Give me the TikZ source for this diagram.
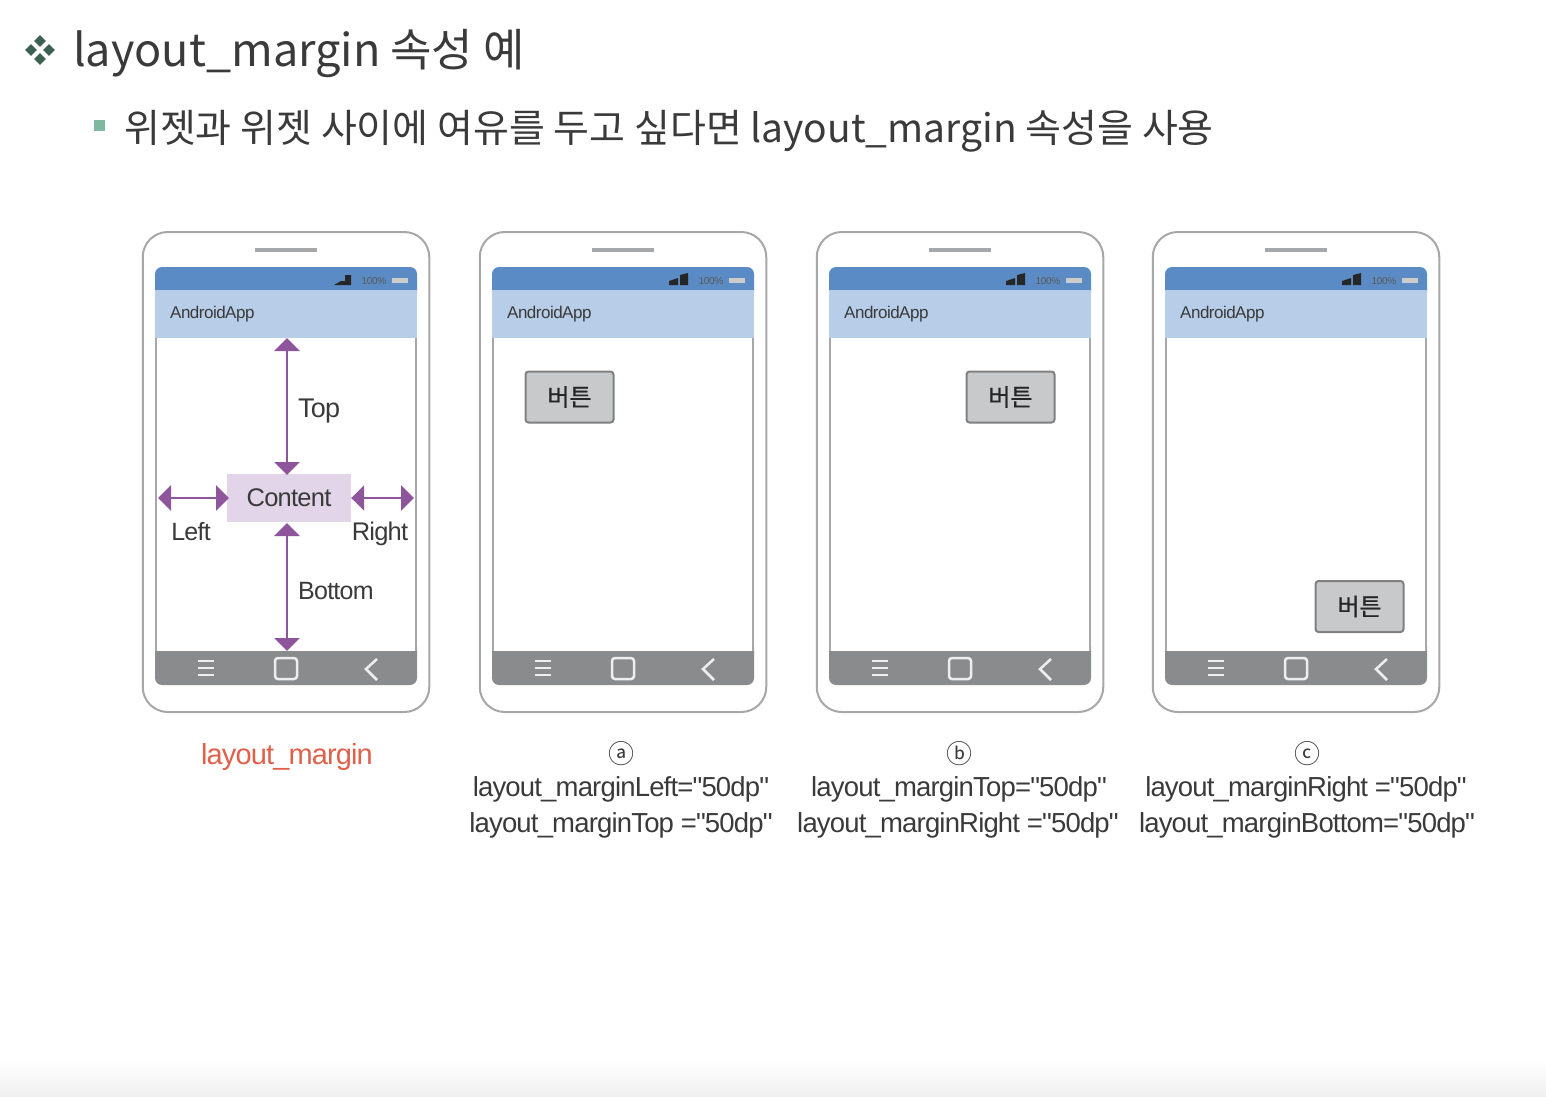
\documentclass[tikz,border=0pt]{standalone}
\usepackage{fontspec}
\newfontfamily\labelfont{Liberation Sans}[LetterSpace=-3]
\newfontfamily\krfont{Noto Sans CJK KR}
\usetikzlibrary{arrows.meta,shapes.geometric}
\definecolor{inkgray}{HTML}{3A3A3A}
\definecolor{framegray}{HTML}{A6A7A9}
\definecolor{statusblue}{HTML}{5B8BC5}
\definecolor{appblue}{HTML}{B7CDE8}
\definecolor{navgray}{HTML}{8A8B8D}
\definecolor{arrowpurple}{HTML}{8E559C}
\definecolor{contentpurple}{HTML}{E2D4E9}
\definecolor{buttongray}{HTML}{C8C9CB}
\definecolor{bulletdark}{HTML}{3C6152}
\definecolor{bulletlight}{HTML}{7FB8A0}
\definecolor{marginred}{HTML}{E0604A}
\tikzset{
  txt/.style={inner sep=0pt,text=inkgray,font=\labelfont\fontsize{#1}{#1}\selectfont},
  heading/.style={inner sep=0pt,anchor=west,text=inkgray,font=\krfont\fontsize{#1}{#1}\selectfont},
  phonebody/.style={draw=framegray,line width=2pt,fill=white,rounded corners=25pt,minimum width=286.5pt,minimum height=480pt,inner sep=0pt},
  buttonbox/.style={draw=gray,line width=2pt,fill=buttongray,rounded corners=3pt,minimum width=88pt,minimum height=51pt,inner sep=0pt,text=black!85,font=\krfont\fontsize{24}{24}\selectfont\addfontfeature{FakeBold=0.6}},
  contentbox/.style={fill=contentpurple,minimum width=124pt,minimum height=48pt,inner sep=0pt,text=inkgray,font=\labelfont\fontsize{25.5}{25.5}\selectfont},
  marginarrow/.style={draw=arrowpurple,line width=2.5pt,{Stealth[length=13pt,width=25pt,inset=0pt]}-{Stealth[length=13pt,width=25pt,inset=0pt]}},
  dia/.style={diamond,fill=bulletdark,minimum size=12pt,inner sep=0pt},
  navline/.style={draw=white!85!navgray,line width=2.5pt},
  markletter/.style={inner sep=0pt,text=inkgray,font=\krfont\fontsize{26}{26}\selectfont}
}
\begin{document}
\begin{tikzpicture}[x=1pt,y=-1pt]
\useasboundingbox (0,0) rectangle (1546,1096);
\shade[top color=white,bottom color=black!6] (0,1060) rectangle (1546,1096);

% headings
\node[dia] (d1) at (40,41) {};
\node[dia] (d2) at (31,50) {};
\node[dia] (d3) at (49,50) {};
\node[dia] (d4) at (40,59) {};
\node[fill=bulletlight,minimum size=11pt,inner sep=0pt] (sq) at (99.5,125) {};
\node[heading=45] (title) at (73,54) {layout\_margin 속성 예};
\node[heading=39] (sub) at (124,131) {위젯과 위젯 사이에 여유를 두고 싶다면 layout\_margin 속성을 사용};

% four phones
\foreach \px/\pname in {0/pa,337/pb,674/pc,1010/pd}{
\begin{scope}[shift={(\px,0)}]
\node[phonebody] (\pname) at (286,472) {};
\draw[draw=framegray,line width=3.5pt] (255,250) -- (317,250);
\fill[statusblue,rounded corners=7pt] (155,300) -- (155,267) -- (417,267) -- (417,300) -- cycle;
\fill[appblue] (155,290) rectangle (417,338);
\fill[navgray,rounded corners=7pt] (155,640) -- (155,685) -- (417,685) -- (417,640) -- cycle;
\fill[white] (155,338) rectangle (417,651);
\draw[draw=framegray,line width=2.5pt] (156,338) -- (156,651) (416,338) -- (416,651);
\node[inner sep=0pt,text=black!65,font=\labelfont\fontsize{10}{10}\selectfont] (pct\pname) at (374,281) {100\%};
\fill[black!20] (392,278) rectangle (408,283);
\node[txt=17,anchor=west] (app\pname) at (170,314) {AndroidApp};
\draw[navline] (198,661) -- (214,661) (198,668) -- (214,668) (198,675) -- (214,675);
\draw[navline,rounded corners=3pt] (275,658) rectangle (297,679);
\draw[navline] (377,659) -- (366,669) -- (377,680);
\end{scope}
}

% signal icons
\fill[black!85] (334,285) -- (341,281) -- (345,281) -- (345,275) -- (351,275) -- (351,285) -- cycle;
\foreach \px in {337,674,1010}{
\fill[black!85,shift={(\px,0)}] (332,285) -- (332,281) -- (341,278) -- (341,285) -- cycle;
\fill[black!85,shift={(\px,0)}] (343,285) -- (343,275) -- (351,273) -- (351,285) -- cycle;
}

% margins of the first phone
\node[contentbox] (content) at (289,498) {Content};
\coordinate (topend) at (287,338);
\coordinate (bottomend) at (287,651);
\coordinate (leftend) at (158,498);
\coordinate (rightend) at (414,498);
\coordinate (topstart) at (287,475);
\coordinate (bottomstart) at (287,523);
\coordinate (leftstart) at (229,498);
\draw[marginarrow] (topend) -- (topstart);
\draw[marginarrow] (bottomstart) -- (bottomend);
\draw[marginarrow] (leftend) -- (leftstart);
\draw[marginarrow] (content.east) -- (rightend);
\node[txt=27,anchor=west] (toplbl) at (298,411) {Top};
\node[txt=25,anchor=west] (bottomlbl) at (298,591) {Bottom};
\node[txt=25] (leftlbl) at (191,532) {Left};
\node[txt=25.5] (rightlbl) at (380,534) {Right};

% buttons
\node[buttonbox] (btna) at (569.5,397) {버튼};
\node[buttonbox] (btnb) at (1010.5,397) {버튼};
\node[buttonbox] (btnc) at (1359.5,606.5) {버튼};

% captions
\node[txt=29,text=marginred] (capm) at (287,757) {layout\_margin};
\node[markletter] (marka) at (621,754) {ⓐ};
\node[markletter] (markb) at (959,754) {ⓑ};
\node[markletter] (markc) at (1307,754) {ⓒ};
\node[txt=27.5] (capa1) at (621,789) {layout\_marginLeft="50dp"};
\node[txt=27.5] (capa2) at (621,825) {layout\_marginTop ="50dp"};
\node[txt=27.5] (capb1) at (959,789) {layout\_marginTop="50dp"};
\node[txt=27.5] (capb2) at (958,825) {layout\_marginRight ="50dp"};
\node[txt=27.5] (capc1) at (1306,789) {layout\_marginRight ="50dp"};
\node[txt=27.5] (capc2) at (1307,825) {layout\_marginBottom="50dp"};
\end{tikzpicture}
\end{document}
